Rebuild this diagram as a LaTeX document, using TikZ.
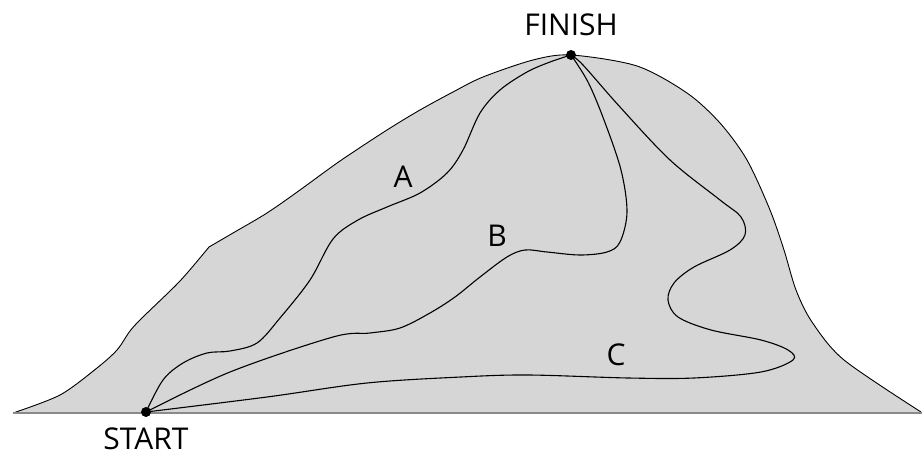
\documentclass[tikz,border=0pt]{standalone}
\usepackage{fontspec}
\setmainfont{Open Sans}
\definecolor{mtgray}{HTML}{D6D6D6}
\definecolor{basegray}{HTML}{8A8A8A}
\begin{document}
\begin{tikzpicture}[x=1pt,y=-1pt,
  outline/.style={draw=black, line width=0.9pt, line join=round},
  route/.style={draw=black, line width=1.1pt, line cap=round, line join=round},
  dotnode/.style={circle, fill=black, inner sep=0pt, minimum size=10pt},
  lbl/.style={font=\fontsize{30}{31}\selectfont, inner sep=0pt}]
\useasboundingbox (0,0) rectangle (922,457);
% mountain fill
\fill[mtgray] plot[smooth,tension=0.5] coordinates {(13,413) (60,395) (97,368) (117,350) (130,331) (143,317) (180,281) (209,247)}
  -- plot[smooth,tension=0.5] coordinates {(209,247) (233,233) (267,213) (300,190) (340,161) (387,130) (420,110) (453,92) (483,77) (533,60) (571,55) (637,66) (687,93) (720,123) (747,160) (770,210) (784,250) (796,290) (812,322) (844,360) (921,412)}
  -- (922,413) -- cycle;
% mountain outline
\draw[outline] plot[smooth,tension=0.5] coordinates {(13,413) (60,395) (97,368) (117,350) (130,331) (143,317) (180,281) (209,247)}
  -- plot[smooth,tension=0.5] coordinates {(209,247) (233,233) (267,213) (300,190) (340,161) (387,130) (420,110) (453,92) (483,77) (533,60) (571,55) (637,66) (687,93) (720,123) (747,160) (770,210) (784,250) (796,290) (812,322) (844,360) (921,412)};
% ground line
\coordinate (gl) at (13,413);
\coordinate (gr) at (922,413);
\draw[basegray, line width=2pt] (gl) -- (gr);
% endpoints
\node[dotnode] (S) at (146,412) {};
\node[dotnode] (F) at (571,55) {};
% routes
\draw[route] plot[smooth,tension=0.55] coordinates {(S) (163,380) (183,363) (207,353) (230,351) (257,343) (280,318) (310,280) (333,239) (358,220) (387,207) (420,193) (447,173) (463,150) (480,113) (500,90) (527,72) (550,62) (F)};
\draw[route] plot[smooth,tension=0.55] coordinates {(S) (230,372) (333,337) (370,333) (400,328) (430,313) (455,297) (480,277) (507,257) (525,250) (547,252) (580,255) (607,252) (620,242) (627,212) (621,170) (604,120) (588,82) (F)};
\draw[route] plot[smooth,tension=0.55] coordinates {(S) (267,397) (367,383) (461,377) (528,375) (628,378) (694,378) (761,372) (793,360) (788,350) (761,340) (711,330) (678,317) (668,300) (674,283) (694,267) (730,250) (745,235) (741,217) (720,200) (670,160) (620,107) (583,65) (F)};
% labels
\node[lbl] (la) at (403,177) {A};
\node[lbl] (lb) at (497,236) {B};
\node[lbl] (lc) at (616,355) {C};
\node[lbl] (lf) at (571,25) {FINISH};
\node[lbl] (ls) at (146,439) {START};
\end{tikzpicture}
\end{document}
